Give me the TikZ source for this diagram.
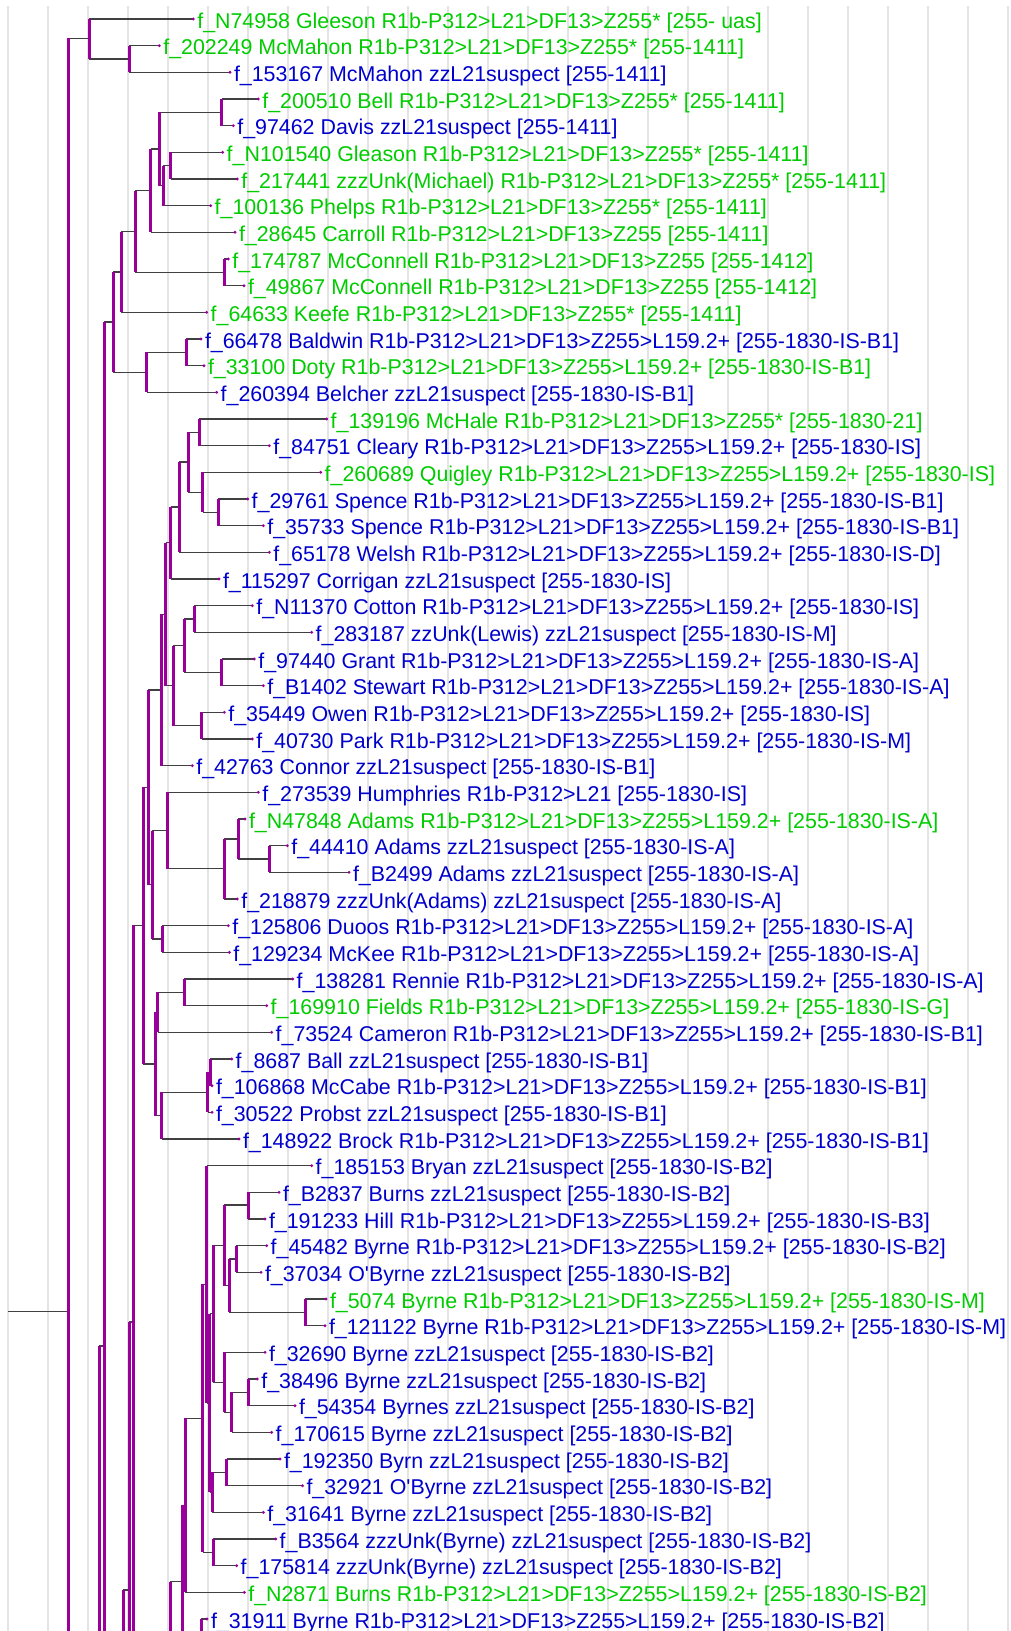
\documentclass[tikz,border=0pt]{standalone}
\usepackage{fontspec}
\setmainfont{Liberation Sans}[Ligatures=TeXOff]
\definecolor{lgreen}{RGB}{0,204,0}
\definecolor{lblue}{RGB}{0,0,204}
\definecolor{tpurple}{RGB}{153,0,153}
\definecolor{hgray}{RGB}{64,64,64}
\definecolor{gridc}{RGB}{228,228,228}
\pgfdeclarelayer{back}\pgfdeclarelayer{hor}
\pgfsetlayers{back,hor,main}
\newcommand\lc[2]{\coordinate (l#1) at (#2,{19+26.6667*#1});}
\newcommand\bin[3]{\begin{pgfonlayer}{hor}\draw[hl] (#1|-#2) -- (#2);\draw[hl] (#1|-#3) -- (#3);\end{pgfonlayer}\draw[vb] (#1|-#2) -- (#1|-#3);}
\newcommand\open[2]{\begin{pgfonlayer}{hor}\draw[hl] (#1|-#2) -- (#2);\end{pgfonlayer}\draw[vb] (#1|-#2) -- (#1|-bot);}
\newcommand\lt[3]{\fill[tpurple] (l#1) circle (1.6);\node[lab,text=#2] (t#1) at (l#1) {#3};}
\begin{document}
\begin{tikzpicture}[x=1pt,y=-1pt,
 hl/.style={draw=hgray,line width=1.3pt},
 vb/.style={draw=tpurple,line width=3pt},
 gridl/.style={draw=gridc,line width=2pt},
 lab/.style={anchor=base west,inner sep=0pt,xshift=3.8pt,yshift=-9.2pt,font=\fontsize{21.4}{25}\selectfont}]
\useasboundingbox (0,0) rectangle (1010,1631);
\begin{pgfonlayer}{back}
\fill[white] (0,0) rectangle (1010,1631);
\foreach \k in {0,...,25} \draw[gridl] ({8.3+40*\k},6) -- ({8.3+40*\k},1631);
\end{pgfonlayer}
% leaf coordinates
\lc{0}{193.3}\lc{1}{159.3}\lc{2}{230}\lc{3}{258.3}\lc{4}{233.3}\lc{5}{222.7}\lc{6}{237.3}
\lc{7}{210.7}\lc{8}{235}\lc{9}{228.3}\lc{10}{244}\lc{11}{206.7}\lc{12}{201}\lc{13}{204}
\lc{14}{216.7}\lc{15}{326.7}\lc{16}{269.3}\lc{17}{320.7}\lc{18}{247.7}\lc{19}{263.3}
\lc{20}{269.3}\lc{21}{219}\lc{22}{252.3}\lc{23}{311.7}\lc{24}{254.3}\lc{25}{263.3}
\lc{26}{224.3}\lc{27}{252.3}\lc{28}{192.3}\lc{29}{258.3}\lc{30}{245}\lc{31}{287.3}
\lc{32}{349}\lc{33}{237.3}\lc{34}{228.3}\lc{35}{229.3}\lc{36}{292.7}\lc{37}{266.7}
\lc{38}{271.7}\lc{39}{231.7}\lc{40}{212}\lc{41}{212}\lc{42}{239}\lc{43}{311.7}
\lc{44}{279}\lc{45}{265}\lc{46}{266.7}\lc{47}{261}\lc{48}{326}\lc{49}{325}\lc{50}{265}
\lc{51}{257.3}\lc{52}{295}\lc{53}{271.7}\lc{54}{280}\lc{55}{302.5}\lc{56}{263.3}
\lc{57}{275.7}\lc{58}{236.7}\lc{59}{244.3}\lc{60}{207}
% internal nodes
\coordinate (bot) at (0,1631);
\coordinate (rootL) at (8.3,1311.7);
\coordinate (A) at (68.3,1311.7);
\coordinate (B) at (89.3,38.3);
\coordinate (C) at (129,59);
\coordinate (D) at (104.3,1346);
\coordinate (E) at (113.3,322.1);
\coordinate (F) at (121,271.9);
\coordinate (H) at (135,231.5);
\coordinate (I) at (150.7,190.7);
\coordinate (K) at (159.3,149);
\coordinate (L) at (221.7,112.3);
\coordinate (M) at (163.3,185.7);
\coordinate (N) at (170.7,165.7);
\coordinate (J) at (224,272.3);
\coordinate (G) at (146.7,372.3);
\coordinate (O) at (186,352.3);
\coordinate (Q1) at (99.3,1346);
\coordinate (Z2) at (123.3,1590);
\coordinate (Z1) at (129.3,1590);
\coordinate (AP) at (133.3,1322);
\coordinate (AJ) at (143.3,925.3);
\coordinate (AC) at (148.3,787.3);
\coordinate (AB) at (161,690);
\coordinate (V) at (165.7,614.3);
\coordinate (U) at (170.7,542.8);
\coordinate (T) at (179,507);
\coordinate (Q) at (188.3,462);
\coordinate (P) at (199,432.3);
\coordinate (R) at (202.7,492.3);
\coordinate (S) at (218.3,512.3);
\coordinate (W) at (173.3,685.7);
\coordinate (X) at (184,645.7);
\coordinate (Z) at (194.3,619);
\coordinate (AA) at (221.7,672.3);
\coordinate (Y) at (201.7,725.7);
\coordinate (AD) at (152.3,884.7);
\coordinate (AE) at (167.7,830.5);
\coordinate (AG) at (224.3,868.7);
\coordinate (AH) at (238.3,839);
\coordinate (AI) at (269.3,859);
\coordinate (AF) at (162.3,939);
\coordinate (AK) at (155,1064);
\coordinate (AM) at (157.7,1012.3);
\coordinate (AL) at (184.3,992.3);
\coordinate (AO) at (161.7,1115.7);
\coordinate (XB) at (207.7,1092.3);
\coordinate (XA) at (210.3,1072.3);
\coordinate (BS) at (170,1581.7);
\coordinate (BR) at (182,1581.7);
\coordinate (BP) at (185,1505.3);
\coordinate (BQ) at (202.5,1418.3);
\coordinate (BA) at (206.7,1284.3);
\coordinate (BM) at (209.5,1403);
\coordinate (BG) at (213.3,1313.8);
\coordinate (BC) at (224.3,1245.3);
\coordinate (BB) at (248.3,1205);
\coordinate (BD) at (229.3,1285.7);
\coordinate (BE) at (236,1259);
\coordinate (BF) at (305,1312.3);
\coordinate (BH) at (224.3,1382.3);
\coordinate (BI) at (231.7,1412.3);
\coordinate (BN) at (248.3,1392.3);
\coordinate (BK) at (212.3,1492.3);
\coordinate (BJ) at (226.7,1472.3);
\coordinate (BL) at (213.3,1552.3);
\coordinate (W60) at (201,1619);
% edges
\begin{pgfonlayer}{hor}\draw[hl] (rootL) -- (A);\end{pgfonlayer}
\open{A}{B}
\bin{B}{l0}{C}\bin{C}{l1}{l2}
\open{Q1}{D}\open{D}{E}
\bin{E}{F}{G}\bin{F}{H}{l11}\bin{H}{I}{J}\bin{I}{K}{l8}\bin{K}{L}{M}
\bin{L}{l3}{l4}\bin{M}{N}{l7}\bin{N}{l5}{l6}\bin{J}{l9}{l10}
\bin{G}{O}{l14}\bin{O}{l12}{l13}
\open{Z2}{Z1}\open{Z1}{AP}\open{AP}{AJ}
\bin{AJ}{AC}{AK}\bin{AC}{AB}{AD}\bin{AB}{V}{l28}\bin{V}{U}{W}
\bin{U}{T}{l21}\bin{T}{Q}{l20}\bin{Q}{P}{R}\bin{P}{l15}{l16}
\bin{R}{l17}{S}\bin{S}{l18}{l19}\bin{W}{X}{Y}\bin{X}{Z}{AA}
\bin{Z}{l22}{l23}\bin{AA}{l24}{l25}\bin{Y}{l26}{l27}
\bin{AD}{AE}{AF}\bin{AE}{l29}{AG}\bin{AG}{AH}{l33}\bin{AH}{l30}{AI}
\bin{AI}{l31}{l32}\bin{AF}{l34}{l35}
\bin{AK}{AM}{AO}\bin{AM}{AL}{l38}\bin{AL}{l36}{l37}\bin{AO}{XB}{l42}
\bin{XB}{XA}{l41}\bin{XA}{l39}{l40}
\open{BS}{BR}\open{BR}{BP}
\bin{BP}{BQ}{l59}\bin{BQ}{BA}{BL}\bin{BA}{l43}{BM}\bin{BM}{BG}{BK}
\bin{BG}{BC}{BH}\bin{BC}{BB}{BD}\bin{BB}{l44}{l45}\bin{BD}{BE}{BF}
\bin{BE}{l46}{l47}\bin{BF}{l48}{l49}\bin{BH}{l50}{BI}\bin{BI}{BN}{l53}
\bin{BN}{l51}{l52}\bin{BK}{BJ}{l56}\bin{BJ}{l54}{l55}\bin{BL}{l57}{l58}
\open{W60}{l60}
% labels
\lt{0}{lgreen}{f\_N74958 Gleeson R1b-P312>L21>DF13>Z255* [255- uas]}
\lt{1}{lgreen}{f\_202249 McMahon R1b-P312>L21>DF13>Z255* [255-1411]}
\lt{2}{lblue}{f\_153167 McMahon zzL21suspect [255-1411]}
\lt{3}{lgreen}{f\_200510 Bell R1b-P312>L21>DF13>Z255* [255-1411]}
\lt{4}{lblue}{f\_97462 Davis zzL21suspect [255-1411]}
\lt{5}{lgreen}{f\_N101540 Gleason R1b-P312>L21>DF13>Z255* [255-1411]}
\lt{6}{lgreen}{f\_217441 zzzUnk(Michael) R1b-P312>L21>DF13>Z255* [255-1411]}
\lt{7}{lgreen}{f\_100136 Phelps R1b-P312>L21>DF13>Z255* [255-1411]}
\lt{8}{lgreen}{f\_28645 Carroll R1b-P312>L21>DF13>Z255 [255-1411]}
\lt{9}{lgreen}{f\_174787 McConnell R1b-P312>L21>DF13>Z255 [255-1412]}
\lt{10}{lgreen}{f\_49867 McConnell R1b-P312>L21>DF13>Z255 [255-1412]}
\lt{11}{lgreen}{f\_64633 Keefe R1b-P312>L21>DF13>Z255* [255-1411]}
\lt{12}{lblue}{f\_66478 Baldwin R1b-P312>L21>DF13>Z255>L159.2+ [255-1830-IS-B1]}
\lt{13}{lgreen}{f\_33100 Doty R1b-P312>L21>DF13>Z255>L159.2+ [255-1830-IS-B1]}
\lt{14}{lblue}{f\_260394 Belcher zzL21suspect [255-1830-IS-B1]}
\lt{15}{lgreen}{f\_139196 McHale R1b-P312>L21>DF13>Z255* [255-1830-21]}
\lt{16}{lblue}{f\_84751 Cleary R1b-P312>L21>DF13>Z255>L159.2+ [255-1830-IS]}
\lt{17}{lgreen}{f\_260689 Quigley R1b-P312>L21>DF13>Z255>L159.2+ [255-1830-IS]}
\lt{18}{lblue}{f\_29761 Spence R1b-P312>L21>DF13>Z255>L159.2+ [255-1830-IS-B1]}
\lt{19}{lblue}{f\_35733 Spence R1b-P312>L21>DF13>Z255>L159.2+ [255-1830-IS-B1]}
\lt{20}{lblue}{f\_65178 Welsh R1b-P312>L21>DF13>Z255>L159.2+ [255-1830-IS-D]}
\lt{21}{lblue}{f\_115297 Corrigan zzL21suspect [255-1830-IS]}
\lt{22}{lblue}{f\_N11370 Cotton R1b-P312>L21>DF13>Z255>L159.2+ [255-1830-IS]}
\lt{23}{lblue}{f\_283187 zzUnk(Lewis) zzL21suspect [255-1830-IS-M]}
\lt{24}{lblue}{f\_97440 Grant R1b-P312>L21>DF13>Z255>L159.2+ [255-1830-IS-A]}
\lt{25}{lblue}{f\_B1402 Stewart R1b-P312>L21>DF13>Z255>L159.2+ [255-1830-IS-A]}
\lt{26}{lblue}{f\_35449 Owen R1b-P312>L21>DF13>Z255>L159.2+ [255-1830-IS]}
\lt{27}{lblue}{f\_40730 Park R1b-P312>L21>DF13>Z255>L159.2+ [255-1830-IS-M]}
\lt{28}{lblue}{f\_42763 Connor zzL21suspect [255-1830-IS-B1]}
\lt{29}{lblue}{f\_273539 Humphries R1b-P312>L21 [255-1830-IS]}
\lt{30}{lgreen}{f\_N47848 Adams R1b-P312>L21>DF13>Z255>L159.2+ [255-1830-IS-A]}
\lt{31}{lblue}{f\_44410 Adams zzL21suspect [255-1830-IS-A]}
\lt{32}{lblue}{f\_B2499 Adams zzL21suspect [255-1830-IS-A]}
\lt{33}{lblue}{f\_218879 zzzUnk(Adams) zzL21suspect [255-1830-IS-A]}
\lt{34}{lblue}{f\_125806 Duoos R1b-P312>L21>DF13>Z255>L159.2+ [255-1830-IS-A]}
\lt{35}{lblue}{f\_129234 McKee R1b-P312>L21>DF13>Z255>L159.2+ [255-1830-IS-A]}
\lt{36}{lblue}{f\_138281 Rennie R1b-P312>L21>DF13>Z255>L159.2+ [255-1830-IS-A]}
\lt{37}{lgreen}{f\_169910 Fields R1b-P312>L21>DF13>Z255>L159.2+ [255-1830-IS-G]}
\lt{38}{lblue}{f\_73524 Cameron R1b-P312>L21>DF13>Z255>L159.2+ [255-1830-IS-B1]}
\lt{39}{lblue}{f\_8687 Ball zzL21suspect [255-1830-IS-B1]}
\lt{40}{lblue}{f\_106868 McCabe R1b-P312>L21>DF13>Z255>L159.2+ [255-1830-IS-B1]}
\lt{41}{lblue}{f\_30522 Probst zzL21suspect [255-1830-IS-B1]}
\lt{42}{lblue}{f\_148922 Brock R1b-P312>L21>DF13>Z255>L159.2+ [255-1830-IS-B1]}
\lt{43}{lblue}{f\_185153 Bryan zzL21suspect [255-1830-IS-B2]}
\lt{44}{lblue}{f\_B2837 Burns zzL21suspect [255-1830-IS-B2]}
\lt{45}{lblue}{f\_191233 Hill R1b-P312>L21>DF13>Z255>L159.2+ [255-1830-IS-B3]}
\lt{46}{lblue}{f\_45482 Byrne R1b-P312>L21>DF13>Z255>L159.2+ [255-1830-IS-B2]}
\lt{47}{lblue}{f\_37034 O'Byrne zzL21suspect [255-1830-IS-B2]}
\lt{48}{lgreen}{f\_5074 Byrne R1b-P312>L21>DF13>Z255>L159.2+ [255-1830-IS-M]}
\lt{49}{lblue}{f\_121122 Byrne R1b-P312>L21>DF13>Z255>L159.2+ [255-1830-IS-M]}
\lt{50}{lblue}{f\_32690 Byrne zzL21suspect [255-1830-IS-B2]}
\lt{51}{lblue}{f\_38496 Byrne zzL21suspect [255-1830-IS-B2]}
\lt{52}{lblue}{f\_54354 Byrnes zzL21suspect [255-1830-IS-B2]}
\lt{53}{lblue}{f\_170615 Byrne zzL21suspect [255-1830-IS-B2]}
\lt{54}{lblue}{f\_192350 Byrn zzL21suspect [255-1830-IS-B2]}
\lt{55}{lblue}{f\_32921 O'Byrne zzL21suspect [255-1830-IS-B2]}
\lt{56}{lblue}{f\_31641 Byrne zzL21suspect [255-1830-IS-B2]}
\lt{57}{lblue}{f\_B3564 zzzUnk(Byrne) zzL21suspect [255-1830-IS-B2]}
\lt{58}{lblue}{f\_175814 zzzUnk(Byrne) zzL21suspect [255-1830-IS-B2]}
\lt{59}{lgreen}{f\_N2871 Burns R1b-P312>L21>DF13>Z255>L159.2+ [255-1830-IS-B2]}
\lt{60}{lblue}{f\_31911 Byrne R1b-P312>L21>DF13>Z255>L159.2+ [255-1830-IS-B2]}
\end{tikzpicture}
\end{document}
